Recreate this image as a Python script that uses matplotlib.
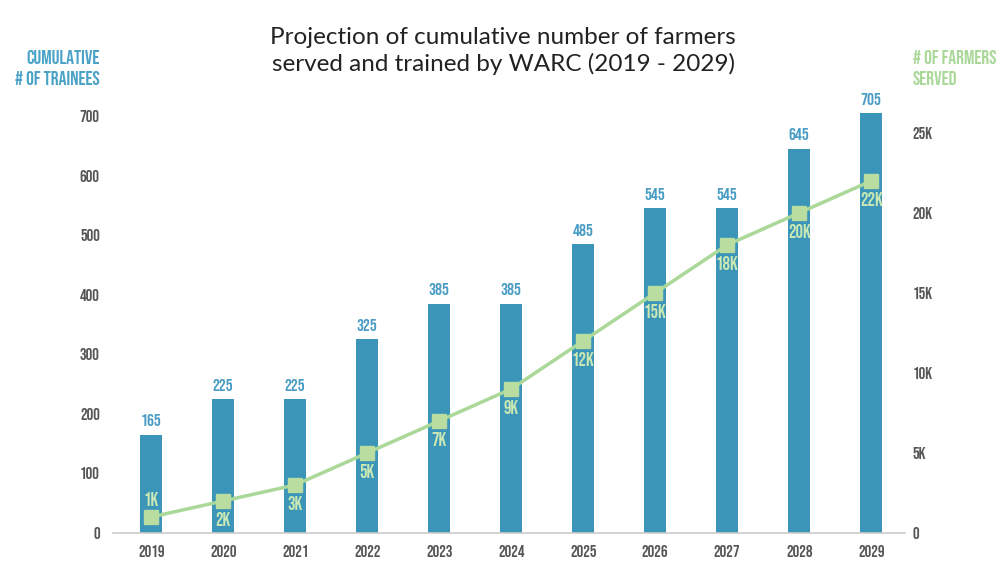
import matplotlib
matplotlib.use("Agg")
import matplotlib.pyplot as plt

years = ["2019", "2020", "2021", "2022", "2023", "2024", "2025", "2026", "2027", "2028", "2029"]
trainees = [165, 225, 225, 325, 385, 385, 485, 545, 545, 645, 705]
farmers = [1000, 2000, 3000, 5000, 7000, 9000, 12000, 15000, 18000, 20000, 22000]
farmer_labels = ["1K", "2K", "3K", "5K", "7K", "9K", "12K", "15K", "18K", "20K", "22K"]
left_ticks = [0, 100, 200, 300, 400, 500, 600, 700]
right_ticks = [0, 5000, 10000, 15000, 20000, 25000]
right_tick_labels = ["0", "5K", "10K", "15K", "20K", "25K"]

COND = ["Bebas Neue", "Oswald", "Roboto Condensed", "Liberation Sans Narrow", "DejaVu Sans"]
TITLE = ["Lato", "DejaVu Sans"]

BAR = "#3a95b8"
BARTXT = "#4a9cc4"
LINE = "#a9d898"
MARK = "#b9dca0"
LTXT = "#c9e8b3"
TICK = "#555555"

fig = plt.figure(figsize=(10, 5.71), dpi=100)
ax = fig.add_axes([0.113, 0.0666, 0.792, 0.7584])
x = list(range(len(years)))
ax.bar(x, trainees, width=0.31, color=BAR, zorder=2)
ax.set_xlim(-0.53, 10.47)
ax.set_ylim(0, 727)
ax.set_yticks(left_ticks)
ax.set_xticks(x)
ax.set_xticklabels(years)
for s in ["top", "right", "left"]:
    ax.spines[s].set_visible(False)
ax.spines["bottom"].set_color("#cccccc")
ax.spines["bottom"].set_linewidth(1.2)
ax.tick_params(axis="both", length=0, labelcolor=TICK, labelsize=12)
ax.tick_params(axis="y", pad=9.5)
ax.tick_params(axis="x", pad=9)
for lab in ax.get_xticklabels() + ax.get_yticklabels():
    lab.set_fontfamily(COND)

for xi, v in zip(x, trainees):
    ax.annotate(str(v), (xi, v), xytext=(0, 6), textcoords="offset points",
                ha="center", va="bottom", color=BARTXT, fontsize=12.5,
                fontfamily=COND)

ax2 = ax.twinx()
ax2.set_ylim(0, 27062)
ax2.plot(x, farmers, color=LINE, lw=2.5, zorder=3)
ax2.plot(x, farmers, ls="none", marker="s", ms=10, color=MARK, zorder=4)
ax2.set_yticks(right_ticks)
ax2.set_yticklabels(right_tick_labels)
for s in ["top", "right", "left", "bottom"]:
    ax2.spines[s].set_visible(False)
ax2.tick_params(axis="y", length=0, labelcolor=TICK, labelsize=12, pad=5.5)
for lab in ax2.get_yticklabels():
    lab.set_fontfamily(COND)

for i, (xi, v, t) in enumerate(zip(x, farmers, farmer_labels)):
    if i == 0:
        off, va = (0, 8), "bottom"
    else:
        off, va = (0, -8), "top"
    ax2.annotate(t, (xi, v), xytext=off, textcoords="offset points",
                 ha="center", va=va, color=LTXT, fontsize=13.5,
                 fontfamily=COND, zorder=5)

fig.text(0.503, 0.952, "Projection of cumulative number of farmers\nserved and trained by WARC (2019 - 2029)",
         ha="center", va="top", fontsize=17.5, fontfamily=TITLE, color="#222222", linespacing=1.25)

fig.text(0.100, 0.882, "CUMULATIVE\n# OF TRAINEES", ha="right", va="center", fontsize=14,
         fontfamily=COND, color="#4aa3c6", linespacing=1.5, multialignment="right")
fig.text(0.913, 0.882, "# OF FARMERS\nSERVED", ha="left", va="center", fontsize=14,
         fontfamily=COND, color="#a9d898", linespacing=1.5, multialignment="left")

fig.savefig("out.png", dpi=100, facecolor="white")
